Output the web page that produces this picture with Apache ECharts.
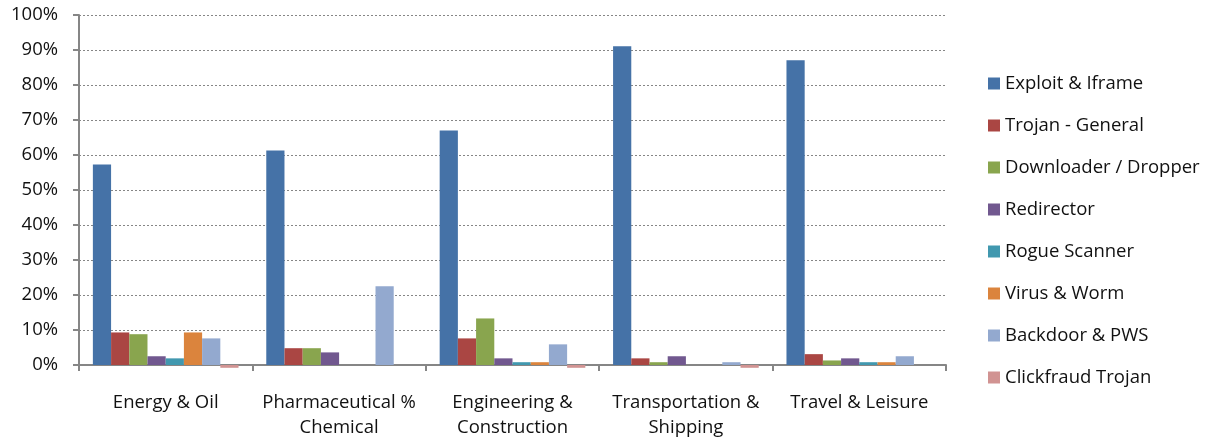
<!DOCTYPE html>
<html>
<head>
<meta charset="utf-8">
<script src="https://cdn.jsdelivr.net/npm/echarts@6/dist/echarts.min.js"></script>
<style>
  html, body { margin: 0; padding: 0; background: #fff; }
  #chart { width: 1220px; height: 440px; }
</style>
</head>
<body>
<div id="chart"></div>
<script>
// Industries (x-axis categories)
const categories = [
  'Energy & Oil',
  'Pharmaceutical %\nChemical',
  'Engineering &\nConstruction',
  'Transportation &\nShipping',
  'Travel & Leisure'
];

// Malware type shares per industry, in percent
const exploitIframe     = [57.3, 61.3, 67.0, 91.1, 87.1];
const trojanGeneral     = [9.3, 4.8, 7.6, 1.9, 3.1];
const downloaderDropper = [8.8, 4.8, 13.3, 0.8, 1.3];
const redirector        = [2.5, 3.6, 1.9, 2.5, 1.9];
const rogueScanner      = [1.9, 0, 0.8, 0, 0.8];
const virusWorm         = [9.3, 0, 0.8, 0, 0.8];
const backdoorPws       = [7.6, 22.5, 5.9, 0.8, 2.5];
const clickfraudTrojan  = [-0.8, 0, -0.8, -0.8, 0];

const seriesNames = [
  'Exploit & Iframe', 'Trojan - General', 'Downloader / Dropper', 'Redirector',
  'Rogue Scanner', 'Virus & Worm', 'Backdoor & PWS', 'Clickfraud Trojan'
];
const seriesData = [
  exploitIframe, trojanGeneral, downloaderDropper, redirector,
  rogueScanner, virusWorm, backdoorPws, clickfraudTrojan
];
const colors = ['#4572A7', '#AA4643', '#89A54E', '#71588F', '#4198AF', '#DB843D', '#93A9CF', '#D19392'];

const yTicks = { min: 0, max: 100, interval: 10 };

const font = '"Open Sans", Lato, sans-serif';

const chart = echarts.init(document.getElementById('chart'), null, { renderer: 'canvas' });

chart.setOption({
  animation: false,
  color: colors,
  textStyle: { fontFamily: font },
  grid: {
    left: 79, right: 274, top: 15, bottom: 75,
    containLabel: false,
    outerBoundsMode: 'none'
  },
  legend: {
    orient: 'vertical',
    left: 988,
    top: 74,
    padding: 0,
    itemWidth: 12,
    itemHeight: 12,
    itemGap: 23,
    icon: 'rect',
    textStyle: { fontFamily: font, fontSize: 18.5, lineHeight: 19, color: '#111' },
    data: seriesNames
  },
  xAxis: {
    type: 'category',
    data: categories,
    axisLine: { onZero: true, lineStyle: { color: '#868686', width: 2 } },
    axisTick: { show: true, alignWithLabel: false, length: 6, lineStyle: { color: '#868686', width: 2 } },
    axisLabel: {
      color: '#111', fontFamily: font, fontSize: 18.5, margin: 25, lineHeight: 25,
      interval: 0
    },
    splitLine: { show: false }
  },
  yAxis: {
    type: 'value',
    min: yTicks.min,
    max: yTicks.max,
    interval: yTicks.interval,
    axisLine: { show: true, lineStyle: { color: '#868686', width: 2 } },
    axisTick: { show: true, length: 6, lineStyle: { color: '#868686', width: 2 } },
    axisLabel: {
      color: '#111', fontFamily: font, fontSize: 18.5, margin: 21,
      formatter: v => v + '%'
    },
    splitLine: { show: true, lineStyle: { color: '#868686', type: [2, 2], width: 1 } }
  },
  series: seriesNames.map((name, i) => ({
    name,
    type: 'bar',
    data: seriesData[i],
    barGap: '0%',
    barCategoryGap: '16%',
    clip: false,
    itemStyle: { color: colors[i] }
  }))
});
</script>
</body>
</html>
